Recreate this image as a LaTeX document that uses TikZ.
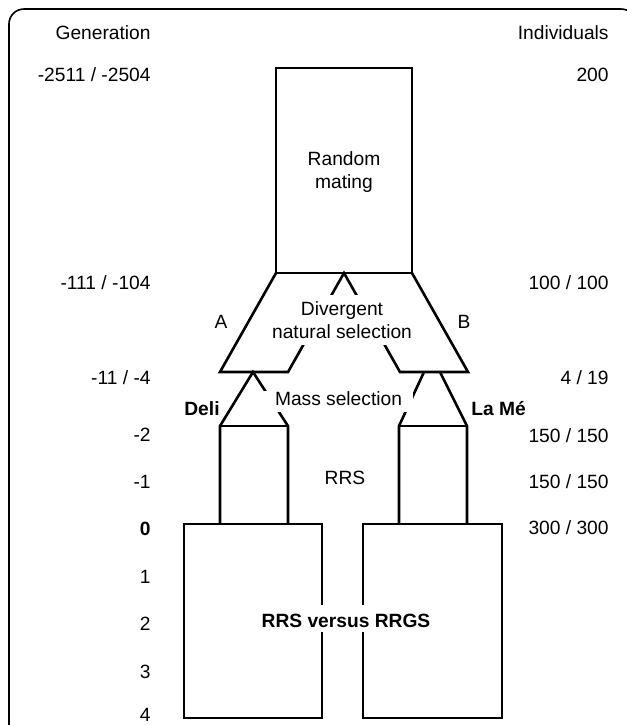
\documentclass[tikz,border=0pt]{standalone}
\usepackage{fontspec}
\setmainfont{Liberation Sans}
\usepackage{tikz}
\newcommand{\labfont}{\fontsize{9.6}{11.5}\selectfont}
\tikzset{
  lab/.style      = {font=\labfont, inner sep=0pt},
  genlab/.style   = {lab, anchor=base east},
  indlab/.style   = {lab, anchor=base east},
  popline/.style  = {draw, line width=1.3pt, line join=miter},
  outframe/.style = {draw, line width=0.8pt, rounded corners=7.5pt},
  gaptext/.style  = {lab, fill=white},
}
\begin{document}
\begin{tikzpicture}[x=0.5pt, y=-0.5pt]
  \useasboundingbox (0,0) rectangle (627,725);
  \clip (0,0) rectangle (627,725);
  \draw[outframe] (9,9) rectangle (636,760);

  % column heads
  \node[genlab] (ghead) at (151,39) {Generation};
  \node[indlab] (ihead) at (609,39) {Individuals};

  % generations
  \node[genlab] (g1) at (151,81)  {-2511 / -2504};
  \node[genlab] (g2) at (151,289) {-111 / -104};
  \node[genlab] (g3) at (151,384) {-11 / -4};
  \node[genlab] (g4) at (151,441) {-2};
  \node[genlab] (g5) at (151,488) {-1};
  \node[genlab, font=\labfont\bfseries] (g6) at (151,535) {0};
  \foreach \g/\y in {1/583, 2/630, 3/678, 4/721}
    \node[genlab] (gc\g) at (151,\y) {\g};

  % individuals
  \node[indlab] (n1) at (609,81)  {200};
  \node[indlab] (n2) at (609,289) {100 / 100};
  \node[indlab] (n3) at (609,384) {4 / 19};
  \node[indlab] (n4) at (609,442) {150 / 150};
  \node[indlab] (n5) at (609,488) {150 / 150};
  \node[indlab] (n6) at (609,534) {300 / 300};

  % random mating and split
  \draw[popline] (276,68) rectangle (412,273);
  \draw[popline] (276,273) -- (220,372) -- (288,372) -- (344,273)
                 -- (400,372) -- (468,372) -- (412,273);

  % Deli and La Me
  \draw[popline] (220,524) -- (220,426) -- (253,372) -- (288,426) -- (288,524);
  \draw[popline] (220,426) -- (288,426);
  \draw[popline] (399,524) -- (399,426) -- (424,372);
  \draw[popline] (440,372) -- (467,426) -- (467,524);
  \draw[popline] (399,426) -- (467,426);

  % test populations
  \draw[popline] (184,524) rectangle (322,718);
  \draw[popline] (363,524) rectangle (502,718);

  % labels
  \node[lab, align=center] (rm) at (344,172) {Random\\mating};
  \node[gaptext, align=center, minimum width=72pt, minimum height=25pt]
    (dns) at (342,320) {Divergent\\natural selection};
  \node[gaptext, anchor=base, inner xsep=5.75pt, text height=7pt, text depth=3.5pt]
    (mass) at (338.5,405) {Mass selection};
  \node[lab] (rrs) at (345,478) {RRS};
  \node[gaptext, anchor=base, font=\labfont\bfseries, inner xsep=2pt,
        text height=11pt, text depth=2.5pt]
    (test) at (346,627) {RRS versus RRGS};
  \node[lab] (la) at (221,322) {A};
  \node[lab] (lb) at (464,322) {B};
  \node[lab, anchor=base east, font=\labfont\bfseries] (deli) at (220,415) {Deli};
  \node[lab, anchor=base west, font=\labfont\bfseries] (lame) at (471,415) {La Mé};
\end{tikzpicture}
\end{document}
